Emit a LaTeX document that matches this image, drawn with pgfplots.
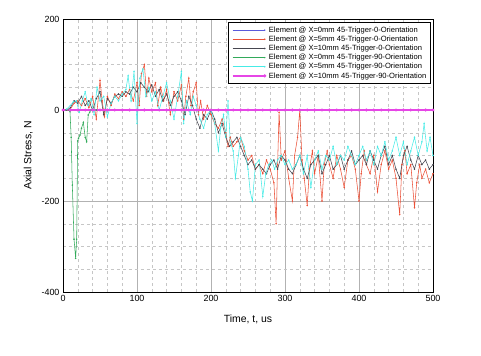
\documentclass[border=0pt]{standalone}
\usepackage{pgfplots}
\pgfplotsset{compat=1.18}
\usepackage{fontspec}
\setmainfont{Liberation Sans}
\definecolor{cblue}{RGB}{90,90,220}
\definecolor{cred}{RGB}{235,80,55}
\definecolor{cgray}{RGB}{70,70,80}
\definecolor{cgreen}{RGB}{50,170,90}
\definecolor{ccyan}{RGB}{70,235,230}
\definecolor{cmag}{RGB}{230,70,230}
\begin{document}
\begin{tikzpicture}
\useasboundingbox (-63bp,-64bp) rectangle (418bp,292bp);
\begin{axis}[
  at={(0,0)}, anchor=south west,
  scale only axis, width=370bp, height=273bp,
  xmin=0, xmax=500, ymin=-400, ymax=200,
  xtick={0,100,...,500}, ytick={-400,-200,0,200},
  minor x tick num=4, minor y tick num=3,
  major tick length=0pt, minor tick length=0pt,
  grid=both,
  major grid style={gray!60, line width=0.4pt},
  minor grid style={gray!45, dashed, line width=0.3pt},
  axis line style={black, line width=0.6pt},
  tick label style={font=\fontsize{9}{10}\selectfont},
  /pgf/number format/assume math mode=true,
  xlabel={Time, t, us}, ylabel={Axial Stress, N},
  label style={font=\fontsize{10.5}{12}\selectfont},
  xlabel style={yshift=-6bp},
  ylabel style={yshift=2bp},
  legend cell align=left,
  legend style={at={(0.993,0.988)}, anchor=north east, font=\fontsize{7.6}{8}\selectfont,
    draw=black, line width=0.5pt, inner sep=3.5pt, row sep=1pt, column sep=3bp,
    nodes={inner sep=0.4pt, text height=5.8pt, text depth=1.6pt}},
  legend image code/.code={
    \draw[#1, mark indices={2}] plot coordinates {(0bp,0bp) (32bp,0bp)};
  },
  every axis plot/.append style={mark=*, mark size=0.45pt, line width=0.55pt},
]
\addplot[cblue, mark options={fill=cblue}] coordinates {(0,0) (10,0) (20,0) (30,0) (40,0) (50,0) (60,0) (70,0) (80,0) (90,0) (100,0) (150,0) (200,0) (250,0) (300,0) (350,0) (400,0) (450,0) (500,0)};
\addlegendentry{Element @ X=0mm 45-Trigger-0-Orientation}
\addplot[cred, mark options={fill=cred}] coordinates {
(0,0) (5,0) (10,2) (15,15) (20,20) (25,10) (30,25) (35,5) (40,30) (45,-20) (50,65) (53,20) (56,-15) (60,30) (65,10) (70,35) (75,25) (80,40) (85,30) (90,45) (95,20) (100,60) (103,10) (106,80) (110,100) (113,30) (116,70) (120,40) (125,60) (128,10) (132,50) (136,20) (140,45) (145,-10) (150,40) (155,20) (160,55) (163,-20) (166,30) (170,70) (173,10) (176,40) (180,60) (183,-10) (186,20) (190,-20) (195,10) (200,-10) (205,-30) (210,-40) (215,-20) (220,-50) (223,-80) (226,-60) (230,-80) (235,-70) (240,-60) (245,-90) (250,-110) (255,-100) (260,-130) (265,-120) (270,-140) (275,-110) (280,-130) (285,-160) (288,-250) (290,-120) (292,-5) (295,-110) (300,-90) (305,-150) (310,-200) (313,-100) (317,-60) (320,0) (323,-110) (326,-150) (330,-210) (333,-130) (337,-90) (340,-140) (345,-100) (350,-200) (353,-120) (357,-90) (360,-120) (365,-150) (370,-100) (375,-130) (380,-170) (385,-110) (390,-100) (395,-130) (400,-200) (403,-140) (407,-90) (410,-120) (415,-140) (420,-100) (425,-180) (430,-120) (435,-90) (440,-130) (445,-110) (450,-150) (455,-230) (458,-120) (462,-90) (465,-140) (470,-120) (475,-215) (478,-160) (482,-120) (485,-150) (490,-130) (495,-160) (500,-140)};
\addlegendentry{Element @ X=5mm 45-Trigger-0-Orientation}
\addplot[cgray, mark options={fill=cgray}] coordinates {
(0,0) (5,0) (10,5) (15,20) (20,15) (25,30) (30,10) (35,20) (40,0) (45,25) (50,40) (55,-10) (60,25) (65,15) (70,30) (75,35) (80,30) (85,40) (90,35) (95,50) (100,40) (105,60) (110,50) (115,40) (120,55) (125,30) (130,45) (135,20) (140,35) (145,10) (150,30) (155,40) (160,20) (165,-10) (170,30) (175,10) (180,-20) (185,-40) (190,-10) (195,-20) (200,0) (205,-20) (210,-50) (215,-30) (220,-60) (225,-80) (230,-70) (235,-60) (240,-80) (245,-100) (250,-120) (255,-110) (260,-130) (265,-120) (270,-130) (275,-140) (280,-120) (285,-110) (290,-130) (295,-100) (300,-110) (305,-130) (310,-140) (315,-120) (320,-100) (325,-130) (330,-150) (335,-120) (340,-110) (345,-100) (350,-140) (355,-120) (360,-100) (365,-130) (370,-120) (375,-100) (380,-130) (385,-110) (390,-90) (395,-120) (400,-110) (405,-100) (410,-120) (415,-90) (420,-110) (425,-130) (430,-100) (435,-80) (440,-120) (445,-100) (450,-130) (455,-150) (460,-100) (465,-80) (470,-110) (475,-130) (480,-100) (485,-120) (490,-110) (495,-130) (500,-120)};
\addlegendentry{Element @ X=10mm 45-Trigger-0-Orientation}
\addplot[cgreen, mark options={fill=cgreen}] coordinates {
(0,0) (4,0) (8,0) (9.5,-4) (11,-60) (12.6,-165) (14.9,-284) (17.1,-326) (18.5,-284) (19.8,-68) (21,-62) (23,-55) (25,-40) (27.5,-27) (30,-60) (32,-70) (34,-11) (36,-5) (38,0) (45,0) (60,0) (80,0) (100,0) (150,0) (200,0) (250,0) (300,0) (350,0) (400,0) (450,0) (500,0)};
\addlegendentry{Element @ X=0mm 45-Trigger-90-Orientation}
\addplot[ccyan, mark options={fill=ccyan}] coordinates {
(0,0) (5,2) (10,10) (14,18) (18,20) (22,-5) (26,20) (30,40) (34,10) (38,25) (42,-10) (46,50) (50,20) (55,30) (60,-15) (65,15) (70,30) (75,20) (80,35) (85,45) (88,75) (92,20) (96,85) (100,-30) (104,70) (108,90) (112,30) (116,50) (120,20) (125,40) (130,0) (135,30) (140,60) (145,20) (150,-20) (155,30) (160,85) (163,-30) (167,20) (172,-10) (176,30) (180,10) (185,-20) (190,-40) (195,-10) (200,0) (205,-30) (210,-90) (213,-40) (217,-10) (220,-60) (223,20) (226,-70) (230,-90) (233,-150) (237,-100) (240,-60) (245,-80) (250,-130) (253,-180) (256,-200) (260,-120) (265,-110) (270,-190) (274,-140) (278,-120) (282,-110) (286,-130) (290,-110) (295,-100) (300,-120) (305,-110) (310,-130) (315,-120) (320,-100) (325,-140) (330,-100) (335,-170) (340,-110) (345,-90) (350,-130) (355,-100) (360,-110) (365,-80) (370,-120) (375,-100) (380,-110) (385,-80) (390,-100) (395,-120) (400,-100) (405,-80) (410,-110) (415,-90) (420,-120) (425,-80) (430,-100) (435,-70) (440,-110) (445,-90) (450,-60) (455,-100) (460,-70) (465,-120) (470,-90) (475,-60) (480,-100) (485,-70) (488,-30) (492,-90) (496,-60) (500,-100)};
\addlegendentry{Element @ X=5mm 45-Trigger-90-Orientation}
\addplot[cmag, line width=1.4pt, mark options={fill=cmag}, mark size=0.7pt] coordinates {(0,0) (10,0) (20,0) (30,0) (40,0) (50,0) (60,0) (70,0) (80,0) (90,0) (100,0) (110,0) (120,0) (130,0) (140,0) (150,0) (160,0) (170,0) (180,0) (190,0) (200,0) (210,0) (220,0) (230,0) (240,0) (250,0) (260,0) (270,0) (280,0) (290,0) (300,0) (310,0) (320,0) (330,0) (340,0) (350,0) (360,0) (370,0) (380,0) (390,0) (400,0) (410,0) (420,0) (430,0) (440,0) (450,0) (460,0) (470,0) (480,0) (490,0) (500,0)};
\addlegendentry{Element @ X=10mm 45-Trigger-90-Orientation}
\end{axis}
\end{tikzpicture}
\end{document}
